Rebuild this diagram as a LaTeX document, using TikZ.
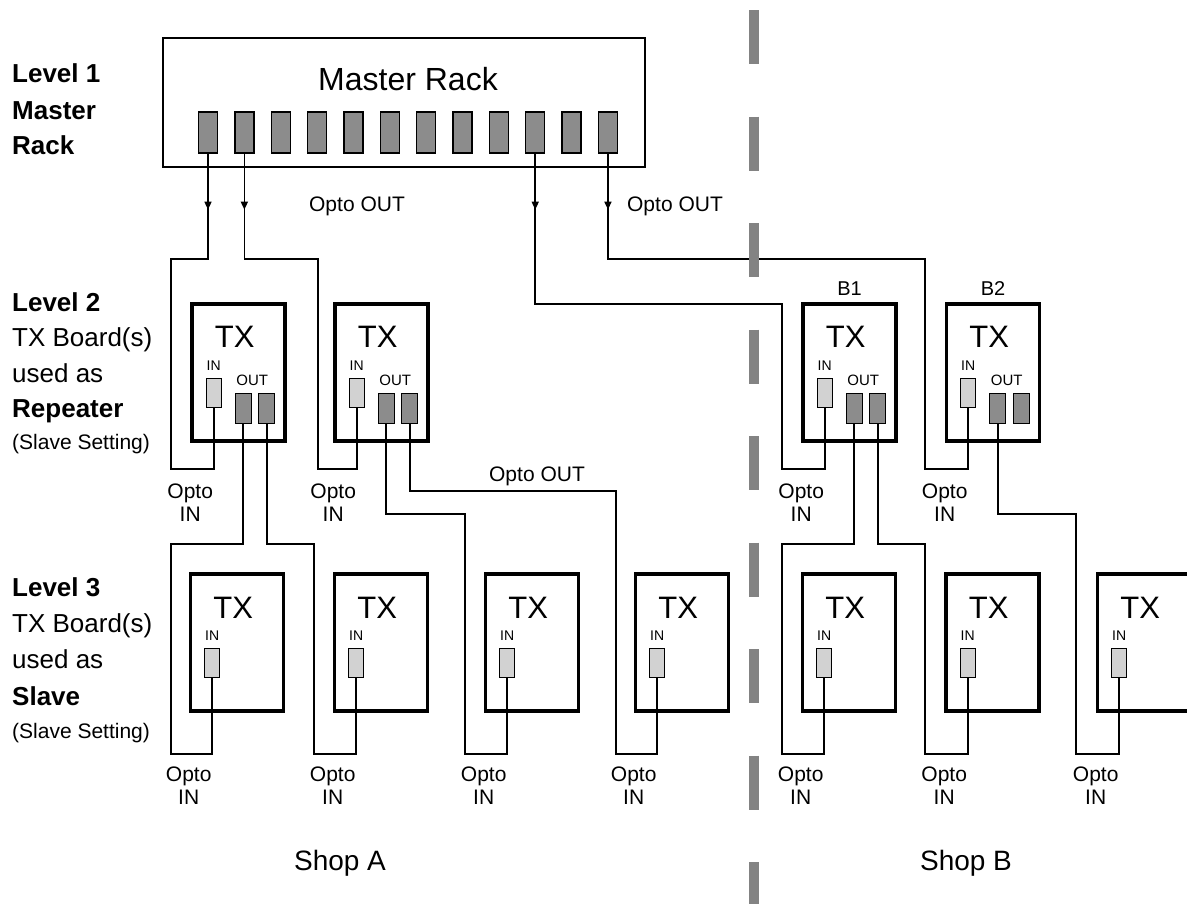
\documentclass[tikz,border=0pt]{standalone}
\usepackage{fontspec}
\setmainfont{Liberation Sans}
\usetikzlibrary{arrows.meta, positioning, calc, decorations.markings}

\definecolor{portdark}{HTML}{8C8C8C}
\definecolor{portlight}{HTML}{D2D2D2}
\definecolor{shopline}{HTML}{838383}

\tikzset{
  rack/.style     = {draw, line width=2.6pt, inner sep=0pt,
                     minimum width=482pt, minimum height=129pt},
  board/.style    = {draw, line width=3.6pt, inner sep=0pt,
                     minimum width=93pt, minimum height=137pt},
  outport/.style  = {draw, line width=1.3pt, fill=portdark, inner sep=0pt,
                     minimum width=16pt, minimum height=30pt},
  inport/.style   = {outport, fill=portlight, minimum width=15pt, minimum height=29pt},
  rackport/.style = {outport, minimum width=19pt, minimum height=41pt},
  wire/.style     = {line width=1.6pt},
  feed/.style     = {wire, postaction={decorate},
                     decoration={markings,
                       mark=at position 56pt with {\arrow{Triangle[length=8pt, width=7pt]}}}},
  divider/.style  = {draw=shopline, line width=10pt, dash pattern=on 54pt off 52.5pt},
  title/.style    = {font=\fontsize{32}{38}\selectfont, inner sep=0pt},
  txlbl/.style    = {font=\fontsize{31}{36}\selectfont, inner sep=0pt},
  portlbl/.style  = {font=\fontsize{14}{16}\selectfont, inner sep=0pt},
  outlbl/.style   = {font=\fontsize{15}{17}\selectfont, inner sep=0pt},
  opto/.style     = {font=\fontsize{21}{23}\selectfont, align=center, inner sep=0pt},
  tag/.style      = {font=\fontsize{20}{22}\selectfont, inner sep=0pt},
  side/.style     = {font=\fontsize{26}{30}\selectfont, anchor=base west, inner sep=0pt},
  sidebf/.style   = {side, font=\fontsize{26}{30}\selectfont\bfseries},
  sidenote/.style = {side, font=\fontsize{21}{24}\selectfont},
  shop/.style     = {font=\fontsize{28}{32}\selectfont, anchor=base, inner sep=0pt}
}

\begin{document}
\begin{tikzpicture}[x=1pt, y=-1pt]
  \useasboundingbox (0,0) rectangle (1187,903);
  \clip (0,0) rectangle (1187,903);

  % ── Level 1: master rack ──────────────────────────────────────────────────
  \node[rack] (rack) at (404,102.5) {};
  \node[title, anchor=base] (rackname) at (408,90) {Master Rack};
  \foreach \i in {1,...,12}
    \node[rackport] (p\i) at ({208+36.36*(\i-1)},132.5) {};

  % ── Level 2: TX boards as repeaters ───────────────────────────────────────
  \foreach \b/\x in {a1/238.5, a2/381.5, b1/849.5, b2/993}{
    \node[board] (\b) at (\x,372.5) {};
    \node[txlbl, anchor=base]   at ($(\b.north west)+(44.5,45)$) {TX};
    \node[portlbl, anchor=base] at ($(\b.north west)+(23.5,68)$) {IN};
    \node[outlbl, anchor=base]  at ($(\b.north west)+(62,83)$)   {OUT};
    \node[inport]  (\b-in) at ($(\b.north west)+(23.5,90.5)$) {};
    \node[outport] (\b-o1) at ($(\b.north west)+(53,106)$)   {};
    \node[outport] (\b-o2) at ($(\b.north west)+(76.5,106)$) {};
    \node[opto, below=41pt of \b.south west] {Opto\\IN};
  }
  \node[tag, above=7pt of b1] {B1};
  \node[tag, above=7pt of b2] {B2};

  % ── Level 3: TX boards as slaves ──────────────────────────────────────────
  \foreach \b/\x in {c1/237, c2/381, c3/532, c4/682, d1/849, d2/992.5, d3/1144}{
    \node[board] (\b) at (\x,642.5) {};
    \node[txlbl, anchor=base]   at ($(\b.north west)+(44.5,46)$) {TX};
    \node[portlbl, anchor=base] at ($(\b.north west)+(23.5,68)$) {IN};
    \node[inport] (\b-in) at ($(\b.north west)+(23.5,90.5)$) {};
    \node[opto, below=54pt of \b.south west] {Opto\\IN};
  }

  % ── Level captions ────────────────────────────────────────────────────────
  \node[sidebf]   (lv1)  at (12,82)  {Level 1};
  \node[sidebf]   (lv1a) at (12,119) {Master};
  \node[sidebf]   (lv1b) at (12,154) {Rack};
  \node[sidebf]   (lv2)  at (12,311) {Level 2};
  \node[side]     (lv2a) at (12,346) {TX Board(s)};
  \node[side]     (lv2b) at (12,382) {used as};
  \node[sidebf]   (lv2c) at (12,417) {Repeater};
  \node[sidenote] (lv2d) at (12,449) {(Slave Setting)};
  \node[sidebf]   (lv3)  at (12,596) {Level 3};
  \node[side]     (lv3a) at (12,632) {TX Board(s)};
  \node[side]     (lv3b) at (12,668) {used as};
  \node[sidebf]   (lv3c) at (12,705) {Slave};
  \node[sidenote] (lv3d) at (12,738) {(Slave Setting)};

  % ── Wire levels ───────────────────────────────────────────────────────────
  \coordinate (inL2) at (0,469);
  \coordinate (inL3) at (0,754);

  % rack → level 2
  \draw[feed] (p1.south)  |- (171,259) |- (a1-in |- inL2) -- (a1-in.south);
  \draw[feed] (p2.south)  |- (318,259) |- (a2-in |- inL2) -- (a2-in.south);
  \draw[feed] (p10.south) |- (782,304) |- (b1-in |- inL2) -- (b1-in.south);
  \draw[feed] (p12.south) |- (925,259) |- (b2-in |- inL2) -- (b2-in.south);
  \node[opto, anchor=base] at (357,211) {Opto OUT};
  \node[opto, anchor=base] at (675,211) {Opto OUT};

  % level 2 → level 3
  \draw[wire] (a1-o1.south) |- (171,544)  |- (c1-in |- inL3) -- (c1-in.south);
  \draw[wire] (a1-o2.south) |- (314,544)  |- (c2-in |- inL3) -- (c2-in.south);
  \draw[wire] (a2-o1.south) |- (465,514)  |- (c3-in |- inL3) -- (c3-in.south);
  \draw[wire] (a2-o2.south) |- (616,491)  |- (c4-in |- inL3) -- (c4-in.south);
  \draw[wire] (b1-o1.south) |- (782,544)  |- (d1-in |- inL3) -- (d1-in.south);
  \draw[wire] (b1-o2.south) |- (925,544)  |- (d2-in |- inL3) -- (d2-in.south);
  \draw[wire] (b2-o1.south) |- (1076,514) |- (d3-in |- inL3) -- (d3-in.south);
  \node[opto, anchor=base] at (537,481) {Opto OUT};

  % ── Shop boundary ─────────────────────────────────────────────────────────
  \coordinate (cutTop) at (754,10);
  \coordinate (cutBot) at (754,930);
  \draw[divider] (cutTop) -- (cutBot);
  \node[shop] (shopA) at (340,870) {Shop A};
  \node[shop] (shopB) at (966,870) {Shop B};

\end{tikzpicture}
\end{document}
